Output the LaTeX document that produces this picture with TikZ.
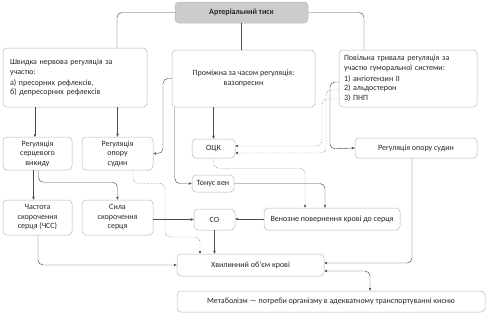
\documentclass[tikz,border=0pt]{standalone}
\usepackage{fontspec}
\setmainfont{Carlito}
\usetikzlibrary{arrows.meta}
\begin{document}
\begin{tikzpicture}[x=1pt,y=-1pt,
  font=\fontsize{8}{9.5}\selectfont,
  >={Stealth[length=3.2pt,width=2.6pt]},
  box/.style={draw=black!28, line width=0.5pt, rounded corners=4pt, fill=white, text=black!85, inner sep=1pt, align=center},
  conn/.style={draw=black!70, line width=0.45pt, rounded corners=5pt},
  arr/.style={conn, ->},
  dotarr/.style={conn, densely dotted, ->},
]
\useasboundingbox[fill=white] (0,0) rectangle (489,319);

% nodes
\node[box, minimum width=133pt, minimum height=21pt, fill=black!20, font=\fontsize{8}{9.5}\selectfont\bfseries] (at) at (241.5,12.5) {Артеріальний тиск};
\node[box, minimum width=144pt, minimum height=59pt, text width=130pt, align=left] (fast) at (75,77.5)
  {Швидка нервова регуляція за\\ участю:\\[1.5pt] а) пресорних рефлексів,\\ б) депресорних рефлексів};
\node[box, minimum width=143pt, minimum height=57pt] (mid) at (243.5,78.5) {Проміжна за часом регуляція:\\ вазопресин};
\node[box, minimum width=138pt, minimum height=57pt, text width=128pt, align=left] (slow) at (408,78.5)
  {Повільна тривала регуляція за\\ участю гуморальної системи:\\[1.5pt] 1) ангіотензин II\\ 2) альдостерон\\ 3) ПНП};
\node[box, minimum width=69pt, minimum height=33pt] (rsv) at (37.5,153.5) {Регуляція\\ серцевого\\ викиду};
\node[box, minimum width=71pt, minimum height=33pt] (ros1) at (117.5,153.5) {Регуляція\\ опору\\ судин};
\node[box, minimum width=43pt, minimum height=19pt] (ock) at (213.5,148.5) {ОЦК};
\node[box, minimum width=122pt, minimum height=20pt] (ros2) at (416,148) {Регуляція опору судин};
\node[box, minimum width=42pt, minimum height=17pt] (tonus) at (213,183.5) {Тонус вен};
\node[box, minimum width=69pt, minimum height=35pt] (chss) at (37.5,217.5) {Частота\\ скорочення\\ серця (ЧСС)};
\node[box, minimum width=71pt, minimum height=35pt] (sila) at (117.5,217.5) {Сила\\ скорочення\\ серця};
\node[box, minimum width=41pt, minimum height=21pt] (co) at (214.5,219.5) {СО};
\node[box, minimum width=136pt, minimum height=22pt] (ven) at (332,219) {Венозне повернення крові до серця};
\node[box, minimum width=147pt, minimum height=22pt] (hv) at (250.5,265) {Хвилинний об’єм крові};
\node[box, minimum width=308pt, minimum height=21pt] (met) at (331,301.5) {Метаболізм — потреби організму в адекватному транспортуванні кисню};

\coordinate (h1) at (339,82);
\coordinate (h2) at (339,90);
\coordinate (h3) at (339,99);

% connectors from arterial pressure
\draw[conn] (at.west) -| ([xshift=42pt]fast.north);
\draw[conn] (at.east) -| ([xshift=-44pt]slow.north);
\draw[conn] (at.south) -- (at.south |- mid.north);

% fast regulation
\draw[arr] (fast.south -| {(35,0)}) -- (35,137);
\draw[arr] (fast.south -| ros1.north) -- (ros1.north);

% intermediate regulation
\draw[arr] (mid.west) -| (163,153.5) -- (ros1.east);
\draw[arr] ([xshift=3pt]mid.south west) |- (tonus.west);
\draw[arr] (mid.south -| ock.north) -- (ock.north);

% humoral regulation
\draw[arr] (h1) -| (330,149) -- (ros2.west);
\draw[dotarr] (h2) -| (326,153) -- (ock.east |- {(0,153)});
\draw[dotarr] (h3) -| (322,146) -- (ock.east |- {(0,146)});

% OCK, tonus -> venous return
\draw[dotarr] (ock.south) -- ++(0,10) -| ([xshift=-27pt]ven.north);
\draw[arr] (tonus.east) -| ([xshift=-7pt]ven.north);
\draw[arr] (ven.west) -- (ven.west -| co.east);
\draw[arr] (sila.east |- co.west) -- (co.west);

% cardiac output regulation
\draw[arr] ([xshift=-4pt]rsv.south) -- ([xshift=-4pt]chss.north);
\draw[arr] ([xshift=1pt]rsv.south) -- ++(0,12) -| (sila.north);

% vessel resistance (left) dotted
\draw[dotarr] ([xshift=15.5pt]ros1.south) -- ++(0,13) -| (165,237) -| ([xshift=-50.5pt]hv.north);

% into minute volume
\draw[arr] (co.south) -- (co.south |- hv.north);
\draw[arr] ([xshift=0.5pt]chss.south) |- (hv.west);
\draw[arr] ([xshift=-4pt]ros2.south) |- ([yshift=2pt]hv.east);
\draw[conn, <->] ([yshift=-6pt]hv.east) -| ([xshift=39pt]met.north);
\end{tikzpicture}
\end{document}
